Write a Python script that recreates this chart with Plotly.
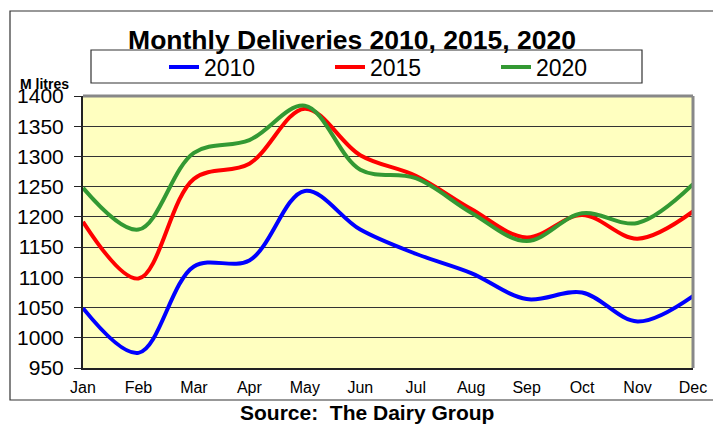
import plotly.graph_objects as go

months = ["Jan", "Feb", "Mar", "Apr", "May", "Jun", "Jul", "Aug", "Sep", "Oct", "Nov", "Dec"]
deliveries_2010 = [1049, 975, 1118, 1128, 1243, 1179, 1139, 1107, 1064, 1075, 1027, 1069]
deliveries_2015 = [1192, 1098, 1263, 1288, 1379, 1302, 1268, 1213, 1166, 1203, 1164, 1209]
deliveries_2020 = [1248, 1179, 1306, 1327, 1384, 1278, 1264, 1207, 1160, 1206, 1190, 1254]
y_ticks = [950, 1000, 1050, 1100, 1150, 1200, 1250, 1300, 1350, 1400]
minor_x_ticks = [3, 6, 9]

W, H = 713, 425
L, R, T, B = 83, 20, 96, 57
PW, PH = W - L - R, H - T - B


def px_x(px):
    return (px - L) / PW


def px_y(py):
    return (H - B - py) / PH


fig = go.Figure()
for name, vals, col in [("2010", deliveries_2010, "#0000FF"),
                        ("2015", deliveries_2015, "#FF0000"),
                        ("2020", deliveries_2020, "#339933")]:
    fig.add_trace(go.Scatter(x=months, y=vals, name=name, mode="lines",
                             line=dict(color=col, width=4, shape="spline", smoothing=1.0)))

font = "Liberation Sans, Arial, sans-serif"

fig.update_layout(
    width=W, height=H,
    margin=dict(l=L, r=R, t=T, b=B, autoexpand=False),
    paper_bgcolor="white",
    plot_bgcolor="#FFFFC0",
    font=dict(family=font, color="black"),
    title=dict(text="<b>Monthly Deliveries 2010, 2015, 2020</b>", x=px_x(352), xref="paper",
               xanchor="center", y=1 - 40 / H, yanchor="middle", font=dict(size=26.5, family=font)),
    showlegend=True,
    legend=dict(orientation="h", x=px_x(164), xanchor="left", y=px_y(67), yanchor="middle",
                yref="paper", bgcolor="rgba(0,0,0,0)", borderwidth=0,
                entrywidth=121, entrywidthmode="pixels",
                font=dict(size=23, family=font)),
    xaxis=dict(type="category", categoryorder="array", categoryarray=months,
               range=[0, 11], showgrid=False, ticks="", showline=True, linecolor="#222222",
               linewidth=2, tickfont=dict(size=16), ticklabelstandoff=4, zeroline=False),
    xaxis2=dict(overlaying="x", range=[0, 11], tickvals=minor_x_ticks, ticks="inside",
                ticklen=6, tickcolor="#222222", showticklabels=False, showgrid=False,
                showline=False, zeroline=False, side="bottom"),
    yaxis=dict(range=[950, 1400], tickvals=y_ticks, showgrid=True, gridcolor="#333333",
               gridwidth=1, ticks="outside", ticklen=7, tickcolor="#222222",
               showline=True, linecolor="#222222", linewidth=2, zeroline=False,
               tickfont=dict(size=21), ticklabelstandoff=6),
    shapes=[
        # outer chart border
        dict(type="rect", xref="paper", yref="paper", x0=px_x(10), y0=px_y(400),
             x1=px_x(W + 5), y1=px_y(11), line=dict(color="#333333", width=1.2), layer="below"),
        # legend box
        dict(type="rect", xref="paper", yref="paper", x0=px_x(91), y0=px_y(83),
             x1=px_x(642), y1=px_y(50), line=dict(color="#333333", width=1.2),
             fillcolor="white", layer="below"),
        # plot area shadow border (top, right)
        dict(type="line", xref="paper", yref="paper", x0=0, y0=1, x1=1, y1=1,
             line=dict(color="#888888", width=3)),
        dict(type="line", xref="paper", yref="paper", x0=1, y0=0, x1=1, y1=1,
             line=dict(color="#888888", width=3)),
    ],
    annotations=[
        dict(text="<b>M litres</b>", xref="paper", yref="paper", x=px_x(18), y=px_y(84),
             xanchor="left", yanchor="middle", showarrow=False, font=dict(size=14, family=font)),
        dict(text="<b>Source:  The Dairy Group</b>", xref="paper", yref="paper", x=px_x(367),
             y=px_y(412), xanchor="center", yanchor="middle", showarrow=False,
             font=dict(size=21, family=font)),
    ],
)

fig.write_html("out.html", config={"displayModeBar": False},
               post_script="document.body.style.margin='0';document.body.style.overflow='hidden';")
